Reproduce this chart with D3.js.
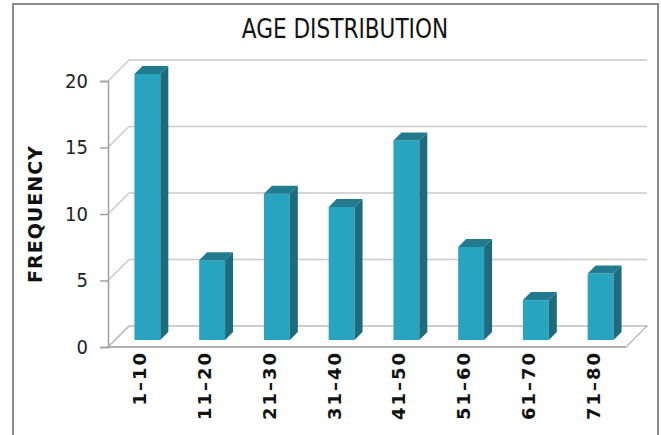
<!DOCTYPE html>
<html>
<head>
<meta charset="utf-8">
<script src="https://cdn.jsdelivr.net/npm/d3@7"></script>
<style>
  body { margin: 0; background: #fff; }
  .tick text { font-family: "DejaVu Sans Condensed", "DejaVu Sans", sans-serif; }
</style>
</head>
<body>
<script>
"use strict";

// data
var categories = ["1\u201310", "11\u201320", "21\u201330", "31\u201340", "41\u201350", "51\u201360", "61\u201370", "71\u201380"];
var frequency = [20, 6, 11, 10, 15, 7, 3, 5];
var yTicks = [0, 5, 10, 15, 20];

var W = 661, H = 435;
var plot = {left: 108, right: 626, top: 81, bottom: 347};
var wall = 21;              // depth of the back wall
var barNear = 7, barFar = 15; // depth of bar front / back

var x = d3.scaleBand().domain(categories).range([plot.left, plot.right]).padding(0);
var y = d3.scaleLinear().domain([0, 20]).range([plot.bottom, plot.top]);
var bw = x.bandwidth() * 0.4;

var svg = d3.select("body").append("svg")
    .attr("width", W)
    .attr("height", H);

svg.append("rect").attr("width", W).attr("height", H).attr("fill", "#fff");

// outer frame
svg.append("rect")
    .attr("x", 13).attr("y", 4)
    .attr("width", 645).attr("height", H + 10)
    .attr("fill", "none")
    .attr("stroke", "#8a8a8a")
    .attr("stroke-width", 2);

// title
svg.append("text")
    .attr("transform", "translate(345,38) scale(0.89,1)")
    .attr("text-anchor", "middle")
    .style("font-family", "'DejaVu Sans Condensed', 'DejaVu Sans', sans-serif")
    .style("font-size", "27px")
    .attr("fill", "#111")
    .text("AGE DISTRIBUTION");

// gridlines on back wall + side wall diagonals
var grid = svg.append("g").attr("stroke", "#c9c9c9").attr("stroke-width", 1.5).attr("fill", "none");
yTicks.forEach(function(t) {
  var yy = y(t);
  if (t > 0) {
    grid.append("line")
        .attr("x1", plot.left + wall).attr("x2", plot.right + wall)
        .attr("y1", yy - wall).attr("y2", yy - wall);
  }
  grid.append("line")
      .attr("x1", plot.left).attr("x2", plot.left + wall)
      .attr("y1", yy).attr("y2", yy - wall);
});

// floor
svg.append("path")
    .attr("d", "M" + plot.left + "," + y(0) +
               "L" + (plot.left + wall) + "," + (y(0) - wall) +
               "L" + (plot.right + wall) + "," + (y(0) - wall) +
               "L" + plot.right + "," + y(0) + "Z")
    .attr("fill", "none")
    .attr("stroke", "#bdbdbd")
    .attr("stroke-width", 1.5);

// bars
var bars = svg.selectAll(".bar").data(frequency).enter().append("g").attr("class", "bar");
function bx(d, i) { return x(categories[i]) + (x.bandwidth() - bw) / 2 + barNear; }
var dd = barFar - barNear;

bars.append("rect")
    .attr("x", bx)
    .attr("y", function(d) { return y(d) - barNear; })
    .attr("width", bw)
    .attr("height", function(d) { return y(0) - y(d); })
    .attr("fill", "#29a4c0");

bars.append("path")
    .attr("d", function(d, i) {
      var x1 = bx(d, i) + bw, t = y(d) - barNear, b = y(0) - barNear;
      return "M" + x1 + "," + t + "L" + (x1 + dd) + "," + (t - dd) +
             "L" + (x1 + dd) + "," + (b - dd) + "L" + x1 + "," + b + "Z";
    })
    .attr("fill", "#1d6b7d");

bars.append("path")
    .attr("d", function(d, i) {
      var x0 = bx(d, i), x1 = x0 + bw, t = y(d) - barNear;
      return "M" + x0 + "," + t + "L" + (x0 + dd) + "," + (t - dd) +
             "L" + (x1 + dd) + "," + (t - dd) + "L" + x1 + "," + t + "Z";
    })
    .attr("fill", "#227a8e");

// y axis
var yAxis = svg.append("g")
    .attr("transform", "translate(" + plot.left + ",0)")
    .call(d3.axisLeft(y).tickValues(yTicks).tickSize(8).tickPadding(12));
yAxis.select(".domain").attr("stroke", "#a0a0a0").attr("stroke-width", 1.5);
yAxis.selectAll(".tick line").attr("stroke", "#a0a0a0").attr("stroke-width", 1.5);
yAxis.selectAll(".tick text").style("font-size", "20px").attr("fill", "#222");

// front floor edge
svg.append("line")
    .attr("x1", plot.left).attr("x2", plot.right)
    .attr("y1", y(0)).attr("y2", y(0))
    .attr("stroke", "#a8a8a8").attr("stroke-width", 1.5);

// x labels, rotated
svg.selectAll(".xlab").data(categories).enter().append("text")
    .attr("class", "xlab")
    .attr("transform", function(d) {
      return "translate(" + (x(d) + x.bandwidth() / 2 + 6) + "," + (y(0) + 4) + ") rotate(-90)";
    })
    .attr("text-anchor", "end")
    .style("font-family", "'DejaVu Sans', sans-serif")
    .style("font-weight", "bold")
    .style("font-size", "18px")
    .style("letter-spacing", "2px")
    .attr("fill", "#111")
    .text(function(d) { return d; });

// y title
svg.append("text")
    .attr("transform", "translate(42,214) rotate(-90)")
    .attr("text-anchor", "middle")
    .style("font-family", "'DejaVu Sans', sans-serif")
    .style("font-weight", "bold")
    .style("font-size", "19px")
    .style("letter-spacing", "1px")
    .attr("fill", "#111")
    .text("FREQUENCY");
</script>
</body>
</html>
